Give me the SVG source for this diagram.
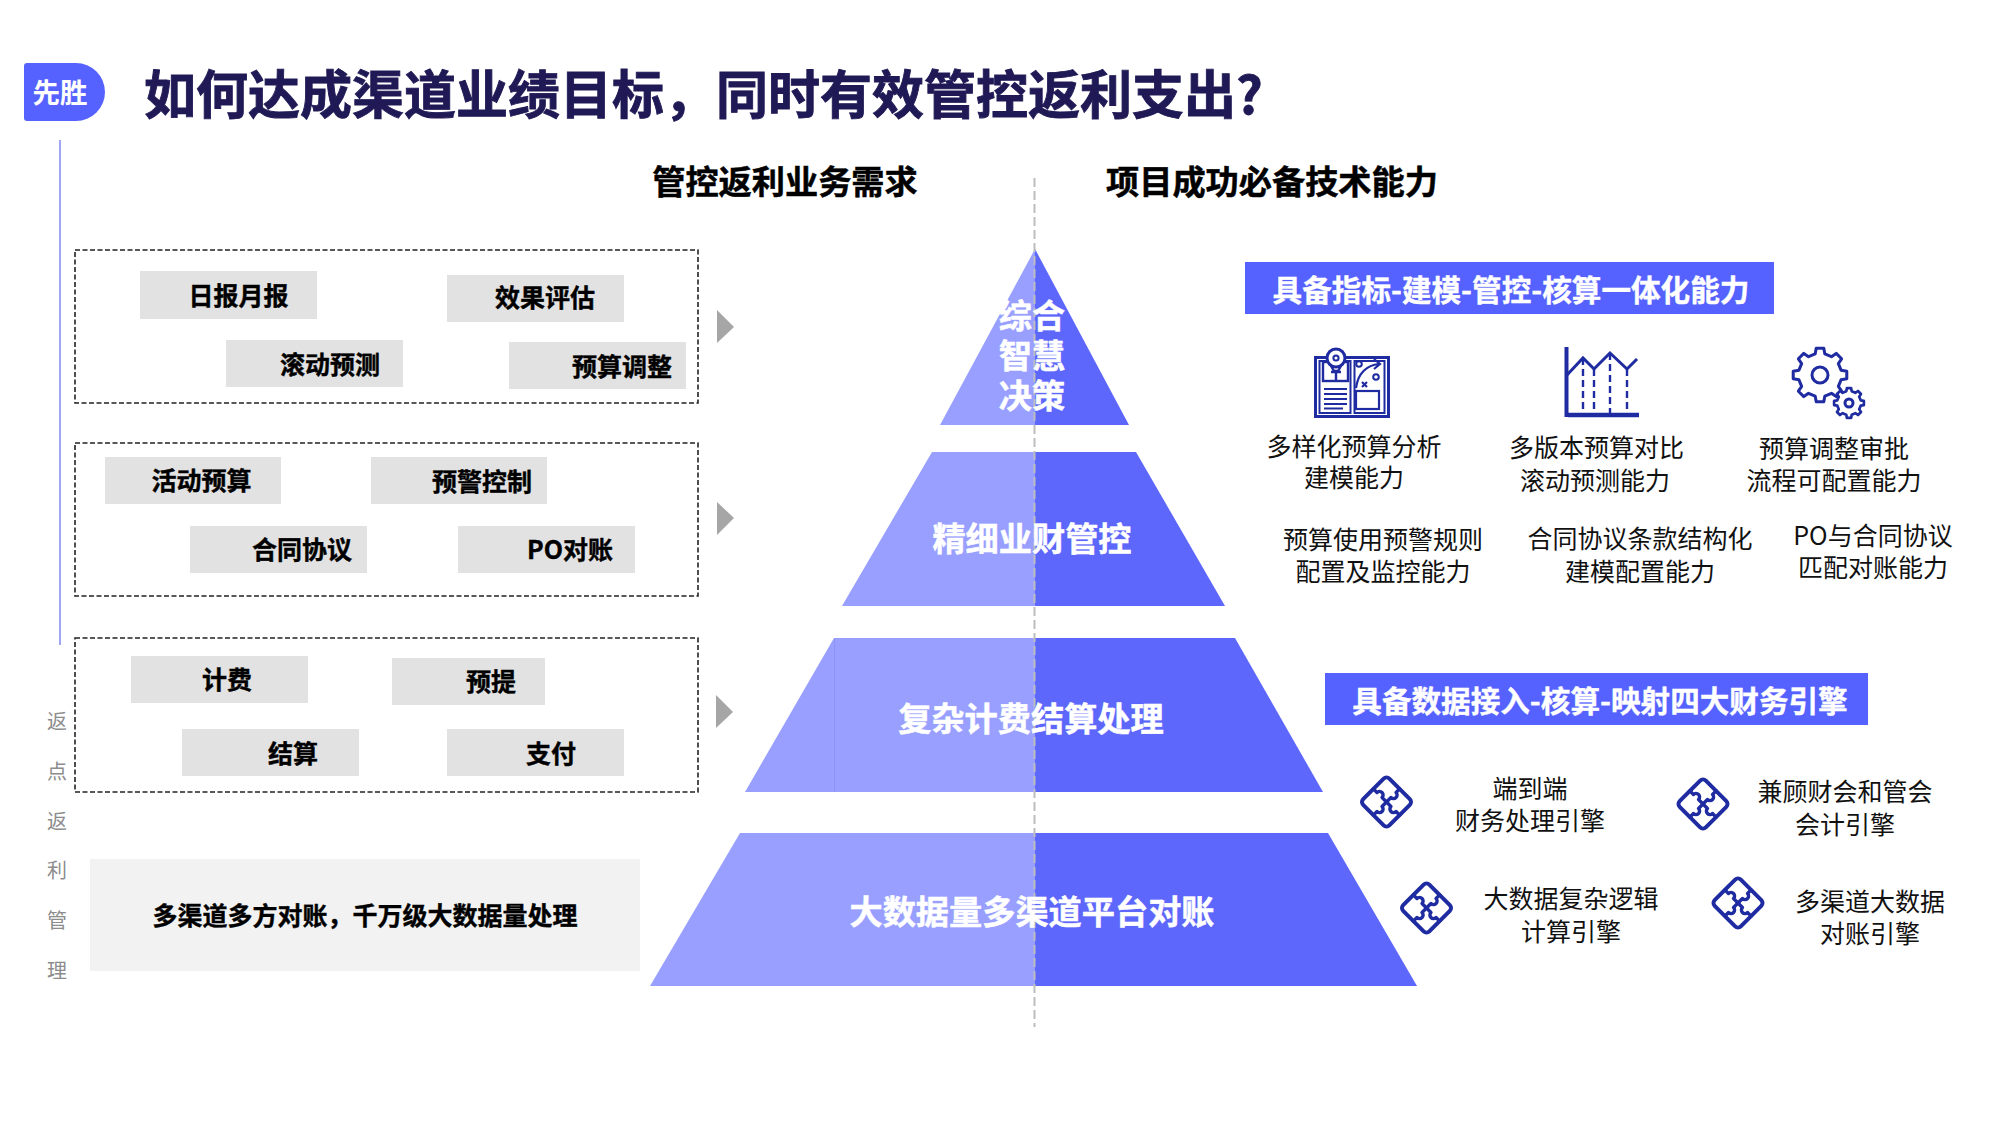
<svg xmlns="http://www.w3.org/2000/svg" xmlns:xlink="http://www.w3.org/1999/xlink" width="2000" height="1125" viewBox="0 0 2000 1125">
<style>
text{font-family:"Noto Sans CJK SC","Noto Sans",sans-serif;text-anchor:middle;dominant-baseline:central;transform:translateY(-2px)}
.title{font-size:52px;font-weight:700;fill:#1F1A55;text-anchor:start;stroke:#1F1A55;stroke-width:.9px}
.col{font-size:33.2px;font-weight:700;fill:#000;stroke:#000;stroke-width:.5px}
.tag{font-size:25px;font-weight:700;fill:#000;stroke:#000;stroke-width:.4px}
.tagbox{fill:#E2E2E2}
.dash{fill:none;stroke:#222;stroke-width:1.6;stroke-dasharray:5 2.5}
.lt{fill:#989FFF}.dk{fill:#5D67FC}
.pyr{font-size:33.2px;font-weight:700;fill:#fff;stroke:#fff;stroke-width:.5px}
.bar{fill:#5562FF}
.barT{font-size:29.6px;font-weight:700;fill:#fff;stroke:#fff;stroke-width:.4px}
.cap{font-size:25px;fill:#111}
.side{font-size:20px;fill:#8C8C8C}
.ic{fill:none;stroke:#1F2BA0;stroke-width:3}
.tri{fill:#A6A6A6}
</style>
<defs>
<path id="gear" d="M19.5,-4.5L24.8,-3.5L24.8,3.5L19.5,4.5L17,10.6L20,15L15,20L10.6,17L4.5,19.5L3.5,24.8L-3.5,24.8L-4.5,19.5L-10.6,17L-15,20L-20,15L-17,10.6L-19.5,4.5L-24.8,3.5L-24.8,-3.5L-19.5,-4.5L-17,-10.6L-20,-15L-15,-20L-10.6,-17L-4.5,-19.5L-3.5,-24.8L3.5,-24.8L4.5,-19.5L10.6,-17L15,-20L20,-15L17,-10.6Z" stroke-linejoin="round"/>
<g id="puzzle" fill="none" stroke="#1F2BA0" stroke-width="3.4" stroke-linecap="round" stroke-linejoin="round">
<rect x="-18.500" y="-18.500" width="37" height="37" rx="4" transform="rotate(45)" stroke-width="4"/>
<g transform="rotate(45)">
<path d="M0,-18.500V-13.500a3.600,3.600 0 1 1 0,7.200V6.300a3.600,3.600 0 1 1 0,7.200V18.500"/>
<path d="M-18.500,0H-13.500a3.600,3.600 0 1 1 7.200,0H6.300a3.600,3.600 0 1 0 7.200,0H18.500"/>
</g>
</g>
</defs>
<rect width="2000" height="1125" fill="#fff"/>

<g id="header">
<path class="bar" d="M24,66Q24,63 27,63H76A29,29 0 0 1 105,92A29,29 0 0 1 76,121H27Q24,121 24,118Z"/>
<text x="60" y="93" font-size="27.5" font-weight="700" fill="#fff">先胜</text>
<text class="title" x="144" y="93">如何达成渠道业绩目标，同时有效管控返利支出?</text>
<text class="col" x="785" y="181">管控返利业务需求</text>
<text class="col" x="1272" y="181">项目成功必备技术能力</text>
</g>

<g id="side-label">
<line x1="60" y1="140" x2="60" y2="645" stroke="#8088F0" stroke-width="1.5"/>
<text class="side" x="57" y="722">返</text>
<text class="side" x="57" y="772">点</text>
<text class="side" x="57" y="822">返</text>
<text class="side" x="57" y="871">利</text>
<text class="side" x="57" y="921">管</text>
<text class="side" x="57" y="971">理</text>
</g>

<g id="need-group-1">
<rect class="dash" x="75" y="250" width="623" height="153"/>
<g id="n-daily"><rect class="tagbox" x="140" y="271" width="177" height="48"/><text class="tag" x="238.500" y="296">日报月报</text></g>
<g id="n-eval"><rect class="tagbox" x="447" y="275" width="177" height="47"/><text class="tag" x="545" y="298">效果评估</text></g>
<g id="n-roll"><rect class="tagbox" x="226" y="340" width="177" height="47"/><text class="tag" x="330" y="365">滚动预测</text></g>
<g id="n-adjust"><rect class="tagbox" x="509" y="342" width="177" height="47"/><text class="tag" x="622" y="367">预算调整</text></g>
</g>
<g id="need-group-2">
<rect class="dash" x="75" y="443" width="623" height="153"/>
<g id="n-activity"><rect class="tagbox" x="105" y="457" width="176" height="47"/><text class="tag" x="201.500" y="481">活动预算</text></g>
<g id="n-alert"><rect class="tagbox" x="371" y="457" width="176" height="47"/><text class="tag" x="482" y="482">预警控制</text></g>
<g id="n-contract"><rect class="tagbox" x="190" y="526" width="177" height="47"/><text class="tag" x="302" y="550">合同协议</text></g>
<g id="n-po"><rect class="tagbox" x="458" y="526" width="177" height="47"/><text class="tag" x="570" y="550">PO对账</text></g>
</g>
<g id="need-group-3">
<rect class="dash" x="75" y="638" width="623" height="154"/>
<g id="n-fee"><rect class="tagbox" x="131" y="656" width="177" height="47"/><text class="tag" x="227" y="680">计费</text></g>
<g id="n-accrual"><rect class="tagbox" x="392" y="658" width="153" height="47"/><text class="tag" x="491" y="682">预提</text></g>
<g id="n-settle"><rect class="tagbox" x="182" y="729" width="177" height="47"/><text class="tag" x="293" y="754">结算</text></g>
<g id="n-pay"><rect class="tagbox" x="447" y="729" width="177" height="47"/><text class="tag" x="551" y="754">支付</text></g>
</g>
<g id="need-group-4">
<rect x="90" y="859" width="550" height="112" fill="#F2F2F2"/>
<text class="tag" x="365" y="916">多渠道多方对账，千万级大数据量处理</text>
</g>

<g id="connectors">
<polygon class="tri" points="717,310 734,327 717,343"/>
<polygon class="tri" points="717,502 734,518 717,535"/>
<polygon class="tri" points="716,695 733,712 716,728"/>
</g>

<g id="pyramid-1"><polygon class="lt" points="1035,249 940,425 1035,425"/><polygon class="dk" points="1035,249 1129,425 1035,425"/></g>
<g id="pyramid-2"><polygon class="lt" points="932,452 842,606 1035,606 1035,452"/><polygon class="dk" points="1035,452 1035,606 1225,606 1136,452"/></g>
<g id="pyramid-3"><polygon class="lt" points="834,638 745,792 1035,792 1035,638"/><polygon class="dk" points="1035,638 1035,792 1323,792 1235,638"/><line x1="834.500" y1="638" x2="834.500" y2="792" stroke="#8C94F5" stroke-width="1"/></g>
<g id="pyramid-4"><polygon class="lt" points="740,833 650,986 1035,986 1035,833"/><polygon class="dk" points="1035,833 1035,986 1417,986 1328,833"/></g>
<line id="center-line" x1="1034.500" y1="178" x2="1034.500" y2="1027" stroke="#BDBDBD" stroke-width="2" stroke-dasharray="9 4"/>
<g id="pyramid-labels">
<text class="pyr" x="1032" y="315">综合</text>
<text class="pyr" x="1032" y="355">智慧</text>
<text class="pyr" x="1032" y="395">决策</text>
<text class="pyr" x="1032" y="538">精细业财管控</text>
<text class="pyr" x="1031" y="718">复杂计费结算处理</text>
<text class="pyr" x="1032" y="911">大数据量多渠道平台对账</text>
</g>

<g id="bar-1"><rect class="bar" x="1245" y="262" width="529" height="52"/><text class="barT" x="1511" y="290">具备指标-建模-管控-核算一体化能力</text></g>

<g id="cap-1">
<g class="ic">
<rect x="1315.500" y="357.500" width="73" height="59"/>
<rect x="1319.500" y="361" width="31" height="52" stroke-width="2"/>
<rect x="1354.500" y="361" width="30" height="52" stroke-width="2"/>
<rect x="1323" y="362" width="25" height="19" stroke-width="2.400"/>
<circle cx="1336" cy="358" r="9" fill="#fff" stroke-width="3"/>
<circle cx="1336" cy="358" r="2.600" stroke-width="2"/>
<path d="M1331,366L1334,371H1338L1341,366M1331,372H1341M1336,372V380" stroke-width="2.400"/>
<path d="M1324,389H1347M1324,394H1347M1324,399H1347M1324,404H1347M1324,408.500H1343" stroke-width="2.200"/>
<circle cx="1359" cy="364" r="2.800" stroke-width="2"/>
<circle cx="1376" cy="377" r="2.800" stroke-width="2"/>
<path d="M1356,388C1358,373 1367,365 1379,364M1374,359L1380,364L1374,369" stroke-width="2.200"/>
<path d="M1362,382L1367,387M1367,382L1362,387" stroke-width="2.200"/>
<rect x="1356" y="391" width="23" height="18" stroke-width="2.200"/>
</g>
<text class="cap" x="1354" y="447">多样化预算分析</text><text class="cap" x="1354" y="478">建模能力</text>
</g>
<g id="cap-2">
<g class="ic">
<path d="M1566.500,347V417" stroke-width="4"/>
<path d="M1568,415H1639" stroke-width="4.500"/>
<path d="M1567,375L1583,358L1594,369L1610,353L1627,369L1637,359"/>
<path d="M1583,358V413M1594,369V413M1610,353V413M1627,369V413" stroke-dasharray="7 4" stroke-width="2.400"/>
</g>
<text class="cap" x="1596.500" y="448">多版本预算对比</text><text class="cap" x="1595" y="481">滚动预测能力</text>
</g>
<g id="cap-3">
<g class="ic">
<use xlink:href="#gear" href="#gear" transform="translate(1820,375) scale(1.08)" fill="#fff" stroke-width="2.800"/>
<circle cx="1820" cy="375" r="8"/>
<use xlink:href="#gear" href="#gear" transform="translate(1849,403) scale(.6)" fill="#fff" stroke-width="4.500"/>
<circle cx="1849" cy="403" r="4"/>
</g>
<text class="cap" x="1834" y="449">预算调整审批</text><text class="cap" x="1834" y="481">流程可配置能力</text>
</g>
<g id="cap-4"><text class="cap" x="1383" y="540">预算使用预警规则</text><text class="cap" x="1383" y="572">配置及监控能力</text></g>
<g id="cap-5"><text class="cap" x="1640" y="539">合同协议条款结构化</text><text class="cap" x="1640" y="572">建模配置能力</text></g>
<g id="cap-6"><text class="cap" x="1873" y="536">PO与合同协议</text><text class="cap" x="1873" y="568">匹配对账能力</text></g>

<g id="bar-2"><rect class="bar" x="1325" y="673" width="543" height="52"/><text class="barT" x="1600" y="701">具备数据接入-核算-映射四大财务引擎</text></g>

<g id="eng-1"><use xlink:href="#puzzle" href="#puzzle" x="1386.500" y="802"/><text class="cap" x="1530" y="789">端到端</text><text class="cap" x="1530" y="821">财务处理引擎</text></g>
<g id="eng-2"><use xlink:href="#puzzle" href="#puzzle" x="1703" y="804"/><text class="cap" x="1845" y="792">兼顾财会和管会</text><text class="cap" x="1845" y="825">会计引擎</text></g>
<g id="eng-3"><use xlink:href="#puzzle" href="#puzzle" x="1426.500" y="908"/><text class="cap" x="1571" y="899">大数据复杂逻辑</text><text class="cap" x="1571" y="932">计算引擎</text></g>
<g id="eng-4"><use xlink:href="#puzzle" href="#puzzle" x="1738" y="903"/><text class="cap" x="1870" y="902">多渠道大数据</text><text class="cap" x="1870" y="934">对账引擎</text></g>
</svg>
